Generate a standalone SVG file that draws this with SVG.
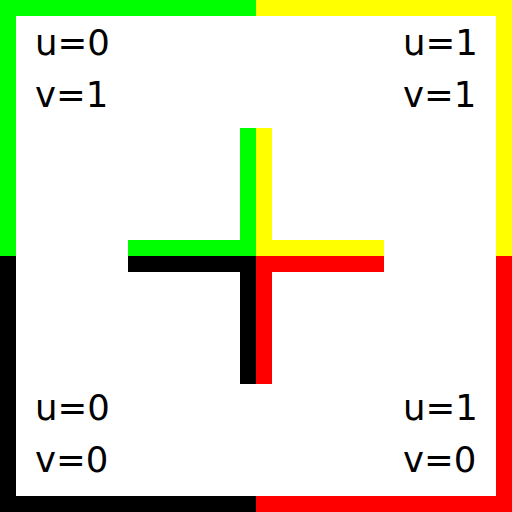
<svg xmlns="http://www.w3.org/2000/svg" width="512" height="512" viewBox="0 0 512 512">
<style>
.t{font-family:"DejaVu Sans",sans-serif;font-size:35.5px;fill:#000}
</style>
<g id="border">
<rect x="0" y="0" width="256" height="256" fill="#00ff00"/>
<rect x="256" y="0" width="256" height="256" fill="#ffff00"/>
<rect x="0" y="256" width="256" height="256" fill="#000000"/>
<rect x="256" y="256" width="256" height="256" fill="#ff0000"/>
<rect x="16" y="16" width="480" height="480" fill="#ffffff"/>
</g>
<g id="cross">
<rect x="240" y="128" width="16" height="128" fill="#00ff00"/>
<rect x="128" y="240" width="128" height="16" fill="#00ff00"/>
<rect x="256" y="128" width="16" height="128" fill="#ffff00"/>
<rect x="256" y="240" width="128" height="16" fill="#ffff00"/>
<rect x="240" y="256" width="16" height="128" fill="#000000"/>
<rect x="128" y="256" width="128" height="16" fill="#000000"/>
<rect x="256" y="256" width="16" height="128" fill="#ff0000"/>
<rect x="256" y="256" width="128" height="16" fill="#ff0000"/>
</g>
<g id="label-tl"><text class="t" x="35" y="55">u=0</text><text class="t" x="35" y="107">v=1</text></g>
<g id="label-tr"><text class="t" x="403" y="55">u=1</text><text class="t" x="403" y="107">v=1</text></g>
<g id="label-bl"><text class="t" x="35" y="420">u=0</text><text class="t" x="35" y="472">v=0</text></g>
<g id="label-br"><text class="t" x="403" y="420">u=1</text><text class="t" x="403" y="472">v=0</text></g>
</svg>
